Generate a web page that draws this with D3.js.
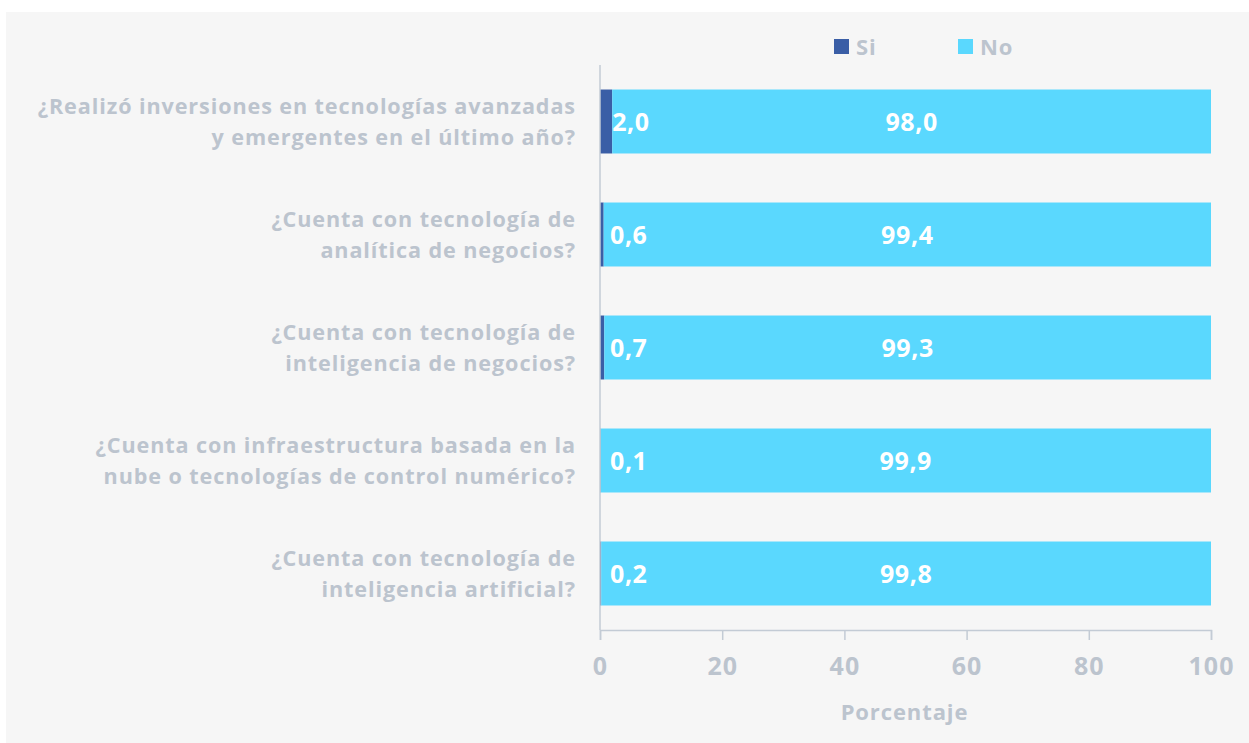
<!DOCTYPE html>
<html>
<head>
<meta charset="utf-8">
<script src="https://cdn.jsdelivr.net/npm/d3@7"></script>
<style>
  html, body { margin: 0; padding: 0; background: #ffffff; }
  svg { display: block; }
  text { font-family: "Open Sans", Lato, sans-serif; font-weight: 700; }
</style>
</head>
<body>
<svg id="chart" width="1249" height="743"></svg>
<script>
const categories = [
  ["¿Realizó inversiones en tecnologías avanzadas", "y emergentes en el último año?"],
  ["¿Cuenta con tecnología de", "analítica de negocios?"],
  ["¿Cuenta con tecnología de", "inteligencia de negocios?"],
  ["¿Cuenta con infraestructura basada en la", "nube o tecnologías de control numérico?"],
  ["¿Cuenta con tecnología de", "inteligencia artificial?"]
];
const siValues = [2.0, 0.6, 0.7, 0.1, 0.2];
const noValues = [98.0, 99.4, 99.3, 99.9, 99.8];
const seriesNames = ["Si", "No"];
const xTicks = [0, 20, 40, 60, 80, 100];
const axisTitle = "Porcentaje";

(function () {
const colors = { Si: "#3a5ea6", No: "#5ad8fe" };
const gray = "#bcc4ce";
const axisColor = "#c3cbd5";
const ls = "0.9px";

const svg = d3.select("#chart");
svg.append("rect").attr("x", 6).attr("y", 12).attr("width", 1243).attr("height", 731).attr("fill", "#f6f6f6");

const mLeft = 600, mRight = 1211, mTop = 65, mBottom = 630;
const x = d3.scaleLinear().domain([0, 100]).range([mLeft, mRight]);
const y = d3.scaleBand().domain(d3.range(categories.length)).range([mTop, mBottom]).paddingInner(0.434).paddingOuter(0.217);

const fmt = v => v.toFixed(1).replace(".", ",");

const g = svg.append("g");
categories.forEach((c, i) => {
  const y0 = y(i), h = y.bandwidth();
  g.append("rect").attr("x", x(0)).attr("y", y0).attr("width", x(siValues[i]) - x(0)).attr("height", h).attr("fill", colors.Si);
  g.append("rect").attr("x", x(siValues[i])).attr("y", y0).attr("width", x(siValues[i] + noValues[i]) - x(siValues[i])).attr("height", h).attr("fill", colors.No);
  g.append("text").attr("x", Math.max(x(siValues[i]), x(0) + 10)).attr("y", y0 + h / 2).attr("dy", "0.36em")
    .attr("fill", "#fff").attr("font-size", 25).attr("letter-spacing", "0.6px").text(fmt(siValues[i]));
  g.append("text").attr("x", (x(siValues[i]) + x(siValues[i] + noValues[i])) / 2).attr("y", y0 + h / 2).attr("dy", "0.36em")
    .attr("text-anchor", "middle").attr("fill", "#fff").attr("font-size", 25).attr("letter-spacing", "0.6px").text(fmt(noValues[i]));
  const t = svg.append("text").attr("text-anchor", "end").attr("fill", gray).attr("font-size", 21.6).attr("letter-spacing", ls);
  c.forEach((line, k) => {
    t.append("tspan").attr("x", 576).attr("y", y0 + h / 2 + (k - (c.length - 1) / 2) * 31).attr("dy", "0.36em").text(line);
  });
});

svg.append("line").attr("x1", mLeft).attr("x2", mLeft).attr("y1", mTop).attr("y2", mBottom).attr("stroke", axisColor).attr("stroke-width", 1.5);

const xAxis = svg.append("g").attr("transform", `translate(0,${mBottom})`)
  .call(d3.axisBottom(x).tickValues(xTicks).tickSize(10).tickPadding(17).tickFormat(d => d));
xAxis.select(".domain").attr("stroke", axisColor).attr("stroke-width", 1.5);
xAxis.selectAll(".tick line").attr("stroke", axisColor).attr("stroke-width", 1.5);
xAxis.selectAll(".tick text").attr("fill", gray).attr("font-size", 25).attr("letter-spacing", "1px")
  .attr("font-family", "'Open Sans', sans-serif").attr("font-weight", 700);

svg.append("text").attr("x", (mLeft + mRight) / 2 - 1).attr("y", 712).attr("dy", "0.36em").attr("text-anchor", "middle")
  .attr("fill", gray).attr("font-size", 22).attr("letter-spacing", ls).text(axisTitle);

const legendX = [834, 958];
seriesNames.forEach((s, i) => {
  svg.append("rect").attr("x", legendX[i]).attr("y", 39).attr("width", 15).attr("height", 15).attr("fill", colors[s]);
  svg.append("text").attr("x", legendX[i] + 22).attr("y", 47).attr("dy", "0.36em").attr("fill", gray).attr("font-size", 22).attr("letter-spacing", ls).text(s);
});
})();
</script>
</body>
</html>
